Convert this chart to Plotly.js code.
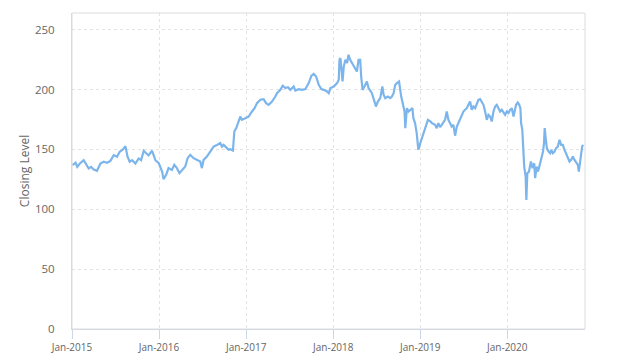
<!DOCTYPE html>
<html>
<head>
<meta charset="utf-8">
<script src="https://cdn.plot.ly/plotly-3.0.1.min.js"></script>
<style>html,body{margin:0;padding:0;background:#fff;}#chart{width:624px;height:362px;}</style>
</head>
<body>
<div id="chart"></div>
<script>
var dates2015 = ["2015-01-02","2015-01-16","2015-01-23","2015-02-03","2015-02-19","2015-03-02","2015-03-12","2015-03-22","2015-04-02","2015-04-16","2015-04-30","2015-05-14","2015-05-28","2015-06-11","2015-06-25","2015-07-09","2015-07-20","2015-08-03","2015-08-13","2015-08-22","2015-08-31","2015-09-10","2015-09-24","2015-10-08","2015-10-18","2015-10-29","2015-11-09","2015-11-18","2015-12-03","2015-12-17","2015-12-31"];
var values2015 = [136.9,138.9,135.5,138.3,141.1,136.9,134.1,135.5,133.3,132.2,138.3,139.7,138.9,140.5,145.3,143.9,148.1,150.0,152.8,143.9,139.7,141.1,138.3,142.5,141.1,148.9,146.9,145.0,148.9,141.0,138.5];

var dates2016 = ["2016-01-14","2016-01-20","2016-01-31","2016-02-10","2016-02-24","2016-03-05","2016-03-16","2016-03-27","2016-04-06","2016-04-20","2016-04-30","2016-05-11","2016-05-25","2016-06-08","2016-06-22","2016-06-29","2016-07-06","2016-07-20","2016-08-03","2016-08-17","2016-08-31","2016-09-14","2016-09-21","2016-09-28","2016-10-12","2016-10-19","2016-10-26","2016-11-06","2016-11-12","2016-11-20","2016-11-30","2016-12-07","2016-12-14","2016-12-28"];
var values2016 = [131.5,125.2,128.8,134.4,132.9,137.1,134.4,130.2,132.9,135.7,142.7,145.5,142.7,141.3,139.9,134.4,141.3,144.1,148.2,152.4,153.8,155.3,152.4,153.8,151.1,149.7,150.2,149.1,165.0,167.8,173.4,177.5,174.7,176.2];

var dates2017 = ["2017-01-11","2017-01-25","2017-02-05","2017-02-15","2017-03-01","2017-03-15","2017-03-25","2017-04-05","2017-04-19","2017-05-03","2017-05-10","2017-05-24","2017-06-03","2017-06-14","2017-06-25","2017-07-05","2017-07-19","2017-07-26","2017-08-09","2017-08-23","2017-09-06","2017-09-20","2017-10-01","2017-10-11","2017-10-21","2017-11-01","2017-11-12","2017-11-22","2017-12-06","2017-12-13","2017-12-20"];
var values2017 = [177.5,181.7,184.5,188.7,191.5,192.0,188.7,187.3,190.0,194.2,197.0,199.8,203.2,201.3,202.0,199.8,202.6,199.2,200.4,199.8,200.4,205.4,211.5,213.2,211.0,204.0,200.4,199.8,198.4,197.0,201.3];

var dates2018 = ["2018-01-03","2018-01-17","2018-01-24","2018-01-27","2018-01-31","2018-02-04","2018-02-09","2018-02-14","2018-02-21","2018-02-28","2018-03-06","2018-03-13","2018-03-20","2018-03-27","2018-04-03","2018-04-10","2018-04-17","2018-04-24","2018-04-28","2018-05-04","2018-05-12","2018-05-22","2018-05-29","2018-06-12","2018-06-23","2018-06-29","2018-07-07","2018-07-17","2018-07-26","2018-07-31","2018-08-07","2018-08-18","2018-08-28","2018-09-04","2018-09-11","2018-09-18","2018-09-25","2018-10-04","2018-10-13","2018-10-22","2018-10-27","2018-10-30","2018-11-06","2018-11-13","2018-11-20","2018-11-29","2018-12-03","2018-12-10","2018-12-17","2018-12-24"];
var values2018 = [202.6,205.4,208.2,224.9,226.3,216.6,206.8,219.3,224.9,222.2,229.1,224.9,222.2,220.7,218.0,215.1,224.9,224.9,211.0,199.8,202.6,206.8,201.3,197.0,190.0,185.9,190.0,192.9,202.6,195.7,192.9,194.2,192.9,194.2,197.0,204.0,205.4,206.8,194.2,187.3,181.7,167.8,184.5,181.7,183.1,184.5,176.2,172.0,163.6,149.7];

var dates2019 = ["2019-01-01","2019-01-08","2019-01-22","2019-02-02","2019-02-12","2019-02-19","2019-03-04","2019-03-11","2019-03-18","2019-03-25","2019-04-01","2019-04-15","2019-04-22","2019-04-29","2019-05-06","2019-05-13","2019-05-20","2019-05-27","2019-06-03","2019-06-10","2019-06-17","2019-06-24","2019-07-01","2019-07-08","2019-07-15","2019-07-22","2019-07-29","2019-08-05","2019-08-12","2019-08-19","2019-08-26","2019-09-02","2019-09-09","2019-09-16","2019-09-23","2019-09-30","2019-10-07","2019-10-14","2019-10-21","2019-10-28","2019-11-04","2019-11-11","2019-11-18","2019-11-25","2019-12-02","2019-12-09","2019-12-16","2019-12-23","2019-12-30"];
var values2019 = [155.3,159.4,167.8,174.7,173.4,172.0,170.6,167.8,172.0,168.6,170.6,174.7,181.7,174.7,172.0,169.1,170.6,161.5,169.0,172.0,176.2,178.9,181.7,183.1,184.5,187.3,190.0,183.1,185.9,184.5,188.7,191.5,192.0,190.0,187.3,181.7,174.7,178.9,177.5,173.4,181.7,185.9,187.3,184.5,181.7,183.1,180.4,178.9,181.7];

var dates2020 = ["2020-01-06","2020-01-13","2020-01-20","2020-01-27","2020-01-31","2020-02-07","2020-02-14","2020-02-20","2020-02-25","2020-02-28","2020-03-04","2020-03-08","2020-03-12","2020-03-18","2020-03-21","2020-03-25","2020-04-01","2020-04-09","2020-04-16","2020-04-23","2020-04-27","2020-05-03","2020-05-09","2020-05-16","2020-05-23","2020-05-30","2020-06-03","2020-06-06","2020-06-10","2020-06-15","2020-06-22","2020-06-29","2020-07-03","2020-07-10","2020-07-17","2020-07-24","2020-07-31","2020-08-07","2020-08-14","2020-08-21","2020-08-28","2020-09-04","2020-09-11","2020-09-18","2020-09-25","2020-10-02","2020-10-09","2020-10-16","2020-10-23","2020-10-27","2020-11-02","2020-11-06","2020-11-10","2020-11-14"];
var values2020 = [180.4,183.1,184.5,177.5,181.7,187.3,189.2,187.3,184.5,172.0,166.4,153.8,135.7,127.3,107.9,130.2,131.5,139.9,134.4,138.5,126.0,135.7,131.5,137.1,142.7,148.2,155.3,167.8,159.4,151.1,148.2,146.9,149.7,146.9,148.2,151.1,152.4,158.0,153.8,153.8,149.7,146.9,142.7,139.9,141.3,144.1,141.3,138.5,137.1,131.5,139.9,148.2,152.4,153.8];

var yTickValues = [0,50,100,150,200,250];
var yAxisTitle = "Closing Level";

var dates = [].concat(dates2015, dates2016, dates2017, dates2018, dates2019, dates2020);
var values = [].concat(values2015, values2016, values2017, values2018, values2019, values2020);

var trace = {
  x: dates, y: values, type: 'scatter', mode: 'lines',
  line: {color: '#7cb5ec', width: 2.2},
  hoverinfo: 'x+y'
};

var fontFam = '"Open Sans", "DejaVu Sans", sans-serif';
var layout = {
  width: 624, height: 362,
  margin: {l: 72, r: 39, t: 13, b: 33, pad: 0},
  paper_bgcolor: '#ffffff', plot_bgcolor: '#ffffff',
  showlegend: false,
  font: {family: fontFam, color: '#666666'},
  xaxis: {
    type: 'date',
    range: ['2015-01-01', '2020-11-22'],
    tick0: '2015-01-01', dtick: 'M12', tickformat: '%b-%Y',
    ticks: 'outside', ticklen: 9, tickcolor: '#ccd6eb', tickwidth: 1,
    showgrid: true, gridcolor: '#e3e3e3', griddash: '3px,3px', gridwidth: 1,
    showline: true, linecolor: '#ccd6eb', linewidth: 1,
    zeroline: false,
    tickfont: {family: fontFam, size: 10, color: '#666666'}
  },
  yaxis: {
    range: [0, 264],
    tickvals: yTickValues,
    ticks: '', ticklabelstandoff: 14,
    showgrid: true, gridcolor: '#e3e3e3', griddash: '3px,3px', gridwidth: 1,
    showline: true, linecolor: '#d8d8d8', linewidth: 1,
    zeroline: false,
    tickfont: {family: fontFam, size: 11.5, color: '#666666'},
    title: {text: yAxisTitle, font: {family: fontFam, size: 12, color: '#666666'}, standoff: 2}
  },
  shapes: [{
    type: 'rect', xref: 'paper', yref: 'paper', x0: 0, x1: 1, y0: 0, y1: 1,
    line: {color: '#dcdcdc', width: 1}, fillcolor: 'rgba(0,0,0,0)', layer: 'above'
  }]
};

Plotly.newPlot('chart', [trace], layout, {displayModeBar: false, staticPlot: true});
</script>
</body>
</html>
